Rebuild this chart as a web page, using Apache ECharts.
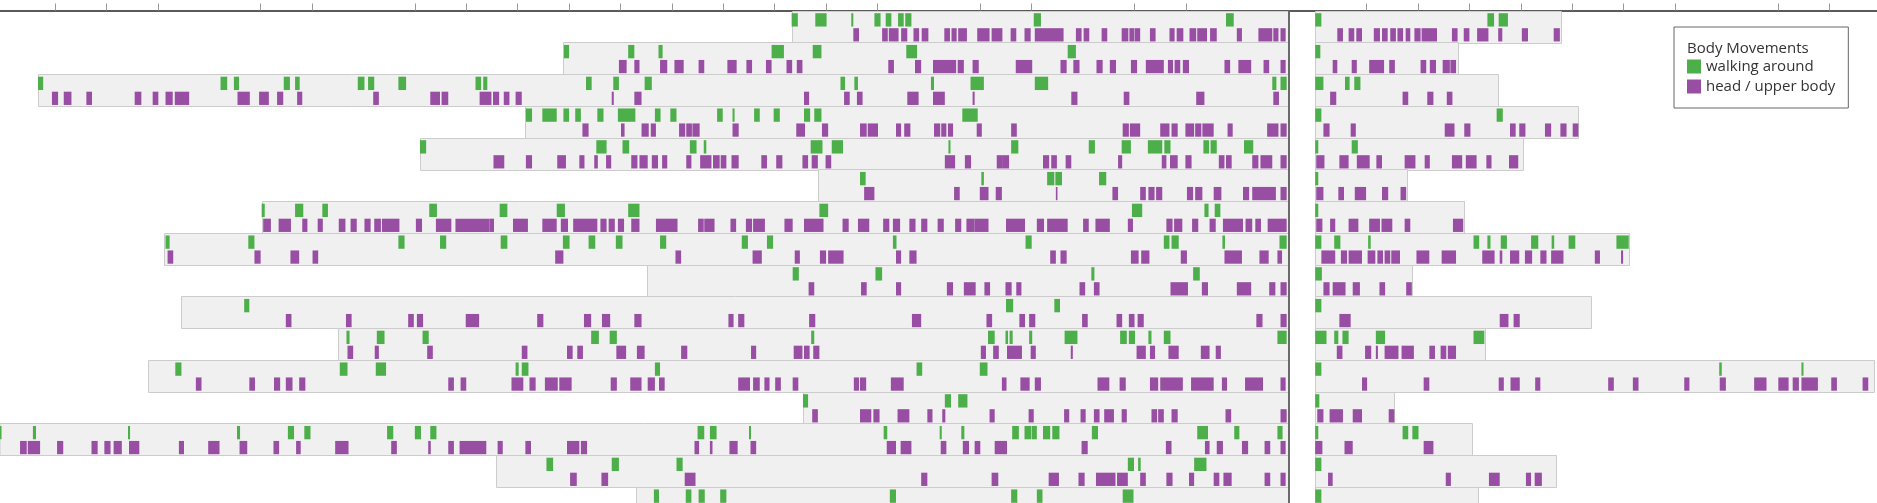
<!DOCTYPE html>
<html><head><meta charset="utf-8">
<script src="https://cdn.jsdelivr.net/npm/echarts@6/dist/echarts.min.js"></script>
<style>html,body{margin:0;padding:0;background:#fff;}#chart{width:1877px;height:503px;}</style>
</head><body><div id="chart"></div>
<script>
// ---- Data (minutes relative to the event; before = negative, after = positive) ----
const rowNames = ['1','2','3','4','5','6','7','8','9','10','11','12','13','14','15','16'];
const seriesNames = ['walking around', 'head / upper body'];
const legendTitle = 'Body Movements';

// observation window of each row
const boxStartBefore = [-96.7,-141.2,-243.3,-148.5,-169.0,-91.6,-199.8,-218.7,-124.9,-215.5,-184.9,-221.9,-94.5,-253,-154.3,-127.0];
const boxEndAfter    = [47.9,27.8,35.6,51.2,40.4,17.9,28.9,61.0,18.9,53.6,33.0,108.8,15.4,30.5,46.9,31.7];

// walking around, before the event
const walkingBefore = [
 [[-96.7,-95.5],[-92.1,-89.9],[-85.1,-84.7],[-80.6,-79.4],[-78.4,-77.3],[-76.0,-74.9],[-74.6,-73.4],[-49.6,-48.2],[-12.2,-10.7]],
 [[-141.0,-140.0],[-128.5,-127.3],[-122.6,-121.8],[-100.6,-98.2],[-92.6,-90.9],[-74.4,-72.3],[-43.0,-41.4]],
 [[-243.3,-242.3],[-207.8,-206.5],[-205.2,-204.2],[-195.5,-194.3],[-193.3,-192.4],[-181.1,-179.8],[-179.1,-177.9],[-173.2,-171.7],[-158.2,-157.1],[-156.7,-155.9],[-136.7,-135.6],[-131.4,-130.3],[-125.3,-123.9],[-87.2,-86.3],[-84.5,-83.8],[-69.6,-69.0],[-61.9,-59.3],[-49.4,-46.8],[-3.2,-2.4],[-1.6,-0.4]],
 [[-148.4,-147.2],[-145.2,-142.4],[-141.1,-140.0],[-138.8,-137.7],[-134.5,-133.3],[-130.5,-127.1],[-123.3,-122.2],[-120.3,-119.1],[-111.2,-110.1],[-108.2,-107.8],[-104.0,-102.9],[-100.2,-99.0],[-94.3,-93.1],[-92.3,-90.9],[-63.5,-60.5]],
 [[-169.0,-167.8],[-134.7,-132.7],[-129.6,-128.3],[-116.5,-115.2],[-113.8,-113.3],[-93.0,-90.7],[-88.9,-86.7],[-66.2,-65.8],[-54.0,-52.6],[-38.9,-37.7],[-32.5,-30.7],[-27.4,-24.6],[-24.2,-23.0],[-16.6,-15.5],[-15.2,-14.0],[-8.7,-6.9]],
 [[-83.4,-82.3],[-59.8,-59.3],[-47.0,-45.6],[-45.4,-44.1],[-36.9,-35.5]],
 [[-199.8,-199.2],[-193.3,-191.7],[-188.0,-186.9],[-167.2,-165.7],[-153.5,-152.0],[-142.4,-140.8],[-128.5,-126.3],[-91.3,-89.6],[-30.5,-28.5],[-16.4,-15.6],[-14.4,-13.3]],
 [[-218.5,-217.7],[-202.4,-201.2],[-173.2,-172.0],[-165.1,-163.9],[-153.3,-152.0],[-141.2,-139.9],[-136.2,-134.9],[-130.9,-129.6],[-122.3,-121.1],[-106.4,-105.2],[-101.5,-100.3],[-77.0,-76.3],[-51.2,-50.0],[-24.3,-23.2],[-22.8,-21.4],[-12.9,-12.4],[-1.8,-0.4]],
 [[-96.5,-95.3],[-80.4,-79.1],[-38.4,-37.8],[-18.6,-17.3]],
 [[-203.2,-202.2],[-55.0,-53.6],[-45.6,-44.5]],
 [[-183.3,-182.7],[-177.4,-175.9],[-168.5,-167.3],[-135.7,-134.2],[-132.1,-130.7],[-92.9,-92.3],[-58.5,-57.2],[-55.1,-54.6],[-54.3,-53.7],[-50.5,-49.9],[-43.6,-41.1],[-32.8,-31.5],[-31.1,-29.9],[-27.3,-26.7],[-24.3,-23.0],[-2.2,-0.4]],
 [[-216.6,-215.4],[-184.6,-183.1],[-177.6,-175.6],[-150.4,-149.8],[-149.2,-147.9],[-123.3,-122.3],[-72.4,-71.3],[-60.1,-58.6]],
 [[-94.5,-93.5],[-66.9,-65.7],[-64.3,-62.5]],
 [[-250.9,-250.4],[-244.3,-243.7],[-225.8,-225.4],[-204.6,-204.0],[-194.7,-193.5],[-191.5,-190.3],[-175.4,-174.2],[-170.0,-168.8],[-167.0,-165.8],[-115.0,-113.7],[-112.6,-111.3],[-105.0,-104.6],[-78.8,-78.1],[-67.9,-67.5],[-63.7,-63.1],[-53.8,-52.5],[-51.4,-50.1],[-50.0,-49.0],[-47.8,-46.4],[-46.0,-44.6],[-38.3,-37.1],[-17.8,-15.7],[-10.6,-9.6],[-2.2,-1.2]],
 [[-144.4,-143.1],[-131.7,-130.3],[-119.1,-117.9],[-31.3,-30.1],[-29.3,-28.8],[-18.4,-16.0]],
 [[-123.5,-122.5],[-117.3,-116.2],[-114.8,-113.6],[-110.6,-109.4],[-77.6,-76.4],[-54.0,-52.8],[-49.0,-47.9],[-32.3,-30.2]]
];

// walking around, after the event
const walkingAfter = [
 [[0,1.2],[33.5,34.8],[35.7,37.5]],
 [[0,1.0]],
 [[0,1.6],[5.8,6.7],[7.6,8.8]],
 [[0,1.2],[35.3,36.5]],
 [[0,0.6],[7.1,8.3]],
 [[0,0.6]],
 [[0,0.6]],
 [[0,1.2],[3.7,4.9],[10.3,10.8],[30.8,31.9],[33.5,34.1],[36.1,37.3],[42.0,43.4],[46.0,46.5],[49.3,50.6],[58.6,61.0]],
 [[0,1.3]],
 [[0,1.2]],
 [[0,2.2],[3.7,4.5],[5.3,6.5],[11.8,13.6],[30.8,32.9]],
 [[0,1.2],[78.6,79.1],[94.6,95.0]],
 [[0,0.8]],
 [[0,0.6],[17.0,18.1],[18.9,20.1]],
 [[0,1.2]],
 [[0,1.2]]
];

// head / upper body, before the event
const headBefore = [
 [[-84.7,-83.6],[-79.1,-78.0],[-77.8,-75.9],[-75.4,-74.2],[-73.0,-71.9],[-71.4,-70.1],[-67.0,-65.9],[-65.6,-64.6],[-64.3,-62.6],[-60.6,-58.2],[-57.8,-55.7],[-54.1,-53.0],[-51.4,-50.2],[-49.4,-43.8],[-41.4,-40.3],[-39.9,-38.8],[-36.4,-35.3],[-32.5,-31.2],[-31.0,-30.0],[-29.9,-28.9],[-27.0,-25.9],[-23.2,-22.2],[-21.8,-20.5],[-19.3,-18.0],[-17.8,-15.9],[-15.3,-14.0],[-10.1,-9.1],[-5.9,-3.2],[-3.0,-2.0],[-1.6,-0.6]],
 [[-130.3,-128.8],[-127.3,-126.3],[-122.3,-120.9],[-119.5,-117.7],[-114.8,-113.7],[-109.2,-107.4],[-105.5,-104.4],[-101.7,-100.6],[-97.7,-96.6],[-95.7,-94.6],[-77.9,-76.8],[-72.7,-71.5],[-69.2,-64.7],[-64.4,-63.2],[-61.5,-60.3],[-53.1,-49.9],[-44.4,-43.2],[-41.9,-40.7],[-37.4,-36.2],[-34.8,-33.6],[-30.7,-29.5],[-27.8,-24.3],[-23.5,-22.5],[-22.2,-21.1],[-20.6,-19.4],[-12.5,-11.4],[-9.8,-7.3],[-4.9,-3.8],[-1.6,-0.6]],
 [[-240.6,-239.4],[-238.3,-236.8],[-233.9,-232.8],[-224.5,-223.2],[-221.0,-219.9],[-218.5,-217.1],[-216.7,-213.9],[-204.5,-202.1],[-200.3,-198.4],[-196.8,-195.6],[-192.9,-191.9],[-178.1,-177.0],[-167.0,-165.1],[-164.8,-163.5],[-157.4,-155.1],[-154.8,-153.6],[-152.7,-151.6],[-150.4,-149.2],[-131.7,-131.3],[-127.3,-125.9],[-94.3,-93.3],[-86.5,-85.4],[-84.0,-82.9],[-74.2,-72.0],[-69.2,-66.9],[-61.5,-61.1],[-42.3,-41.1],[-32.1,-31.0],[-18.0,-16.4],[-3.0,-1.9]],
 [[-137.4,-136.2],[-129.9,-129.2],[-125.9,-124.5],[-124.1,-123.1],[-118.6,-117.4],[-117.2,-116.1],[-116.0,-114.6],[-108.2,-107.0],[-95.8,-94.1],[-90.8,-89.6],[-83.4,-82.1],[-81.9,-79.9],[-76.4,-75.4],[-74.8,-73.6],[-69.0,-67.8],[-67.6,-66.6],[-66.3,-65.3],[-60.7,-59.7],[-54.0,-52.9],[-32.3,-31.1],[-30.9,-28.9],[-25.0,-23.2],[-22.8,-21.6],[-20.1,-18.4],[-18.2,-17.0],[-16.8,-14.6],[-11.9,-10.9],[-4.2,-2.0],[-1.6,-0.4]],
 [[-154.7,-152.6],[-148.4,-147.2],[-142.3,-140.6],[-138.0,-137.0],[-135.1,-134.4],[-132.8,-131.8],[-127.9,-126.7],[-126.3,-124.7],[-123.9,-122.7],[-121.9,-120.9],[-117.2,-116.2],[-114.5,-112.3],[-112.0,-110.7],[-110.5,-109.4],[-108.4,-107.0],[-102.6,-101.5],[-99.7,-98.5],[-94.6,-93.5],[-92.8,-91.6],[-90.1,-89.0],[-66.9,-64.9],[-63.0,-61.8],[-56.8,-55.6],[-55.6,-54.4],[-47.8,-46.6],[-46.2,-45.1],[-43.4,-42.3],[-33.2,-32.4],[-24.7,-23.8],[-23.1,-21.6],[-20.1,-18.9],[-13.6,-12.5],[-12.2,-11.1],[-7.1,-5.9],[-5.5,-3.2],[-1.6,-0.4]],
 [[-82.6,-80.6],[-65.1,-64.0],[-60.1,-58.4],[-57.0,-55.8],[-45.3,-45.0],[-34.3,-33.2],[-28.9,-27.8],[-27.3,-26.1],[-25.8,-24.6],[-19.8,-18.6],[-18.2,-16.8],[-14.6,-13.1],[-8.9,-7.7],[-7.1,-2.5],[-1.6,-0.4]],
 [[-199.5,-198.0],[-196.5,-194.1],[-191.9,-190.9],[-188.9,-187.9],[-184.8,-183.5],[-182.5,-181.3],[-179.8,-178.6],[-177.9,-176.6],[-176.4,-173.0],[-169.8,-168.6],[-165.9,-162.9],[-162.1,-155.5],[-155.5,-154.6],[-150.9,-148.0],[-145.2,-142.4],[-141.6,-140.2],[-139.2,-134.5],[-133.9,-132.7],[-132.3,-131.1],[-130.5,-129.3],[-127.9,-126.3],[-123.1,-118.9],[-114.9,-113.8],[-113.7,-111.7],[-108.6,-107.5],[-105.6,-104.4],[-104.2,-101.9],[-98.1,-96.5],[-94.3,-90.5],[-86.8,-85.6],[-83.8,-81.6],[-78.9,-77.7],[-77.0,-75.6],[-73.8,-72.6],[-71.5,-70.3],[-68.3,-67.1],[-64.9,-63.7],[-62.7,-61.1],[-61.1,-58.4],[-55.0,-51.3],[-49.0,-47.6],[-47.0,-43.0],[-40.0,-38.9],[-37.6,-34.8],[-31.3,-30.3],[-23.8,-22.6],[-22.3,-20.7],[-18.8,-17.6],[-15.4,-14.2],[-12.8,-8.9],[-8.4,-7.1],[-6.5,-5.4],[-4.1,-0.4]],
 [[-218.1,-217.0],[-201.2,-200.0],[-194.2,-192.5],[-189.9,-188.8],[-142.7,-141.1],[-119.3,-118.2],[-104.3,-102.5],[-96.1,-95.1],[-91.2,-90.0],[-89.6,-86.6],[-76.4,-75.4],[-73.8,-72.4],[-46.4,-45.3],[-44.4,-43.2],[-30.7,-29.2],[-28.7,-27.1],[-21.0,-19.8],[-12.5,-9.1],[-5.7,-3.9],[-2.2,-1.3]],
 [[-93.4,-92.3],[-83.2,-82.1],[-76.4,-75.4],[-66.5,-65.3],[-63.2,-60.9],[-59.2,-58.1],[-55.1,-53.9],[-53.0,-52.0],[-40.7,-39.6],[-37.9,-36.8],[-23.0,-19.6],[-16.9,-15.7],[-10.1,-7.3],[-3.8,-2.6],[-1.6,-0.4]],
 [[-195.1,-194.0],[-183.4,-182.3],[-171.3,-170.2],[-169.6,-168.4],[-160.1,-157.5],[-146.2,-145.0],[-137.1,-135.7],[-133.6,-132.0],[-127.3,-125.9],[-109.0,-108.0],[-107.1,-105.9],[-93.3,-92.1],[-73.3,-71.5],[-58.8,-57.7],[-52.4,-51.3],[-50.5,-49.3],[-40.2,-39.1],[-33.5,-32.4],[-31.1,-30.0],[-29.4,-28.2],[-6.3,-5.1],[-1.6,-0.4]],
 [[-183.1,-182.0],[-177.8,-177.0],[-167.6,-166.5],[-149.2,-148.1],[-140.4,-139.3],[-138.4,-137.3],[-130.8,-128.9],[-126.8,-125.3],[-118.2,-117.0],[-104.6,-103.6],[-96.3,-94.6],[-94.3,-93.2],[-92.5,-91.3],[-59.9,-58.9],[-57.5,-56.4],[-54.8,-51.9],[-50.2,-49.2],[-42.4,-42.0],[-29.6,-27.8],[-27.0,-26.0],[-23.4,-21.4],[-17.1,-15.4],[-14.2,-13.2]],
 [[-212.6,-211.5],[-202.2,-201.1],[-197.4,-196.2],[-195.1,-193.8],[-192.5,-191.3],[-163.5,-162.4],[-161.1,-160.0],[-151.2,-148.9],[-147.7,-146.5],[-144.7,-142.2],[-141.9,-139.5],[-131.9,-130.7],[-128.1,-125.9],[-124.7,-123.3],[-122.5,-121.4],[-107.1,-104.8],[-104.2,-102.9],[-102.0,-101.0],[-99.9,-98.8],[-96.5,-95.4],[-84.6,-83.6],[-83.4,-82.2],[-77.4,-74.9],[-55.8,-54.9],[-52.2,-50.4],[-49.4,-48.2],[-37.2,-34.9],[-32.9,-31.7],[-27.0,-25.4],[-25.0,-20.6],[-19.0,-14.6],[-13.0,-12.0],[-8.5,-5.0],[-1.6,-0.6]],
 [[-92.7,-91.6],[-83.4,-81.2],[-80.8,-79.6],[-76.1,-73.8],[-70.3,-69.3],[-67.4,-66.8],[-58.2,-57.2],[-50.6,-49.6],[-43.7,-42.7],[-40.5,-39.5],[-37.9,-36.8],[-35.9,-34.0],[-32.5,-31.5],[-26.7,-25.6],[-25.4,-24.3],[-22.8,-21.6],[-12.3,-11.2],[-1.6,-0.4]],
 [[-246.8,-245.5],[-245.3,-242.9],[-239.6,-238.4],[-232.9,-231.7],[-230.4,-229.2],[-228.6,-227.0],[-225.6,-223.6],[-215.9,-214.9],[-210.2,-208.0],[-204.1,-202.6],[-197.5,-196.4],[-193.1,-192.2],[-185.5,-182.9],[-174.6,-173.5],[-167.4,-166.9],[-163.5,-162.4],[-161.3,-156.1],[-153.9,-152.9],[-148.5,-147.4],[-140.4,-138.0],[-137.7,-136.5],[-115.6,-114.7],[-112.6,-112.1],[-108.8,-107.2],[-104.7,-103.6],[-78.2,-76.4],[-75.5,-73.4],[-67.7,-66.6],[-63.4,-62.2],[-61.1,-60.0],[-57.2,-54.8],[-40.3,-39.1],[-23.9,-22.8],[-16.3,-15.4],[-14.0,-12.8],[-9.1,-7.9],[-4.7,-3.6],[-1.6,-0.6]],
 [[-139.8,-138.5],[-133.7,-132.4],[-117.5,-115.4],[-71.5,-70.3],[-57.8,-56.5],[-46.7,-44.7],[-40.9,-39.7],[-37.5,-33.7],[-33.4,-31.3],[-28.9,-27.8],[-23.8,-22.6],[-19.4,-18.4],[-14.6,-13.5],[-12.7,-11.1],[-4.7,-3.6],[-1.6,-0.6]],
 []
];

// head / upper body, after the event
const headAfter = [
 [[4.3,5.4],[6.5,7.6],[8.0,9.1],[11.4,12.6],[13.0,14.1],[14.6,15.7],[16.0,17.1],[17.6,18.5],[19.3,20.5],[20.7,23.7],[26.6,27.7],[28.9,30.0],[31.5,33.7],[35.6,36.4],[40.2,41.4],[46.4,47.6]],
 [[3.4,4.3],[7.1,8.1],[10.5,13.4],[14.4,15.5],[20.5,21.6],[22.3,23.5],[24.8,26.2],[26.3,27.4]],
 [[2.9,4.1],[17.0,18.1],[21.8,23.0],[25.6,26.7]],
 [[1.6,2.8],[6.9,7.9],[25.2,27.1],[29.0,30.2],[37.9,39.0],[39.7,40.9],[44.7,45.9],[47.7,48.9],[50.1,51.2]],
 [[0.2,1.8],[4.7,6.5],[8.1,10.6],[11.9,13.0],[17.4,19.5],[21.3,22.3],[26.6,28.6],[29.3,31.4],[33.3,34.3],[37.7,39.5]],
 [[0.2,1.6],[4.5,5.6],[7.7,9.9],[13.0,14.2],[16.6,17.7]],
 [[0.2,1.4],[2.9,3.9],[6.5,8.4],[10.5,12.6],[12.9,15.0],[17.4,18.5],[26.8,28.8]],
 [[1.2,3.9],[5.0,6.2],[6.5,9.1],[10.2,11.7],[12.1,13.2],[13.5,14.6],[14.8,16.5],[19.7,22.2],[24.6,27.4],[32.5,34.9],[35.9,36.4],[37.9,39.7],[40.8,42.2],[43.8,45.0],[45.9,48.3],[54.4,55.4],[59.5,59.9]],
 [[1.6,2.8],[3.4,5.9],[7.3,8.7],[12.5,13.6],[17.7,18.8]],
 [[4.7,6.9],[35.9,37.6],[38.6,39.8]],
 [[4.2,5.3],[9.7,10.9],[11.8,12.2],[13.5,16.2],[16.8,19.2],[22.2,23.3],[24.4,25.5],[25.8,27.4]],
 [[9.1,10.1],[21.1,22.2],[35.7,36.7],[38.0,39.8],[42.8,43.8],[57.0,58.1],[61.8,62.9],[71.8,72.8],[78.7,79.9],[85.4,87.8],[90.1,92.1],[92.9,94.1],[94.6,97.8],[100.4,101.5],[106.5,107.6]],
 [[0.4,1.6],[2.8,5.4],[7.3,9.1],[14.3,15.4]],
 [[0,1.4],[5.7,7.3],[21.1,23.0]],
 [[2.5,3.4],[25.4,26.4],[33.8,35.9],[41.0,42.0],[42.7,44.1]],
 []
];

// axis ticks (minutes)
const tickMinutesBefore = [-240,-230,-220,-200,-190,-170,-160,-150,-140,-130,-120,-110,-100,-90,-80,-60,-50,-30,-20];
const tickMinutesAfter = [10,20,30,40,50,60,70,90,100];

// ---- Chart ----
const GREEN = '#4daf4a', PURPLE = '#984ea3';
const chart = echarts.init(document.getElementById('chart'), null, {renderer: 'canvas'});

function toItems(rows) {
  const out = [];
  rows.forEach((list, r) => list.forEach(p => out.push([r, p[0], p[1]])));
  return out;
}
function clipTo(params, rect) {
  const cs = params.coordSys;
  return echarts.graphic.clipRectByRect(rect, {x: cs.x, y: cs.y, width: cs.width, height: cs.height});
}
function markRenderer(f0, f1) {
  return function (params, api) {
    const r = api.value(0);
    const a = api.coord([api.value(1), r]);
    const b = api.coord([api.value(2), r]);
    const h = api.size([0, 1])[1];
    const top = a[1] - h / 2;
    const shape = clipTo(params, {x: a[0], y: top + f0 * h, width: Math.max(b[0] - a[0], 1.6), height: (f1 - f0) * h});
    return shape && {type: 'rect', shape: shape, style: {fill: api.visual('color')}};
  };
}
function boxRenderer(params, api) {
  const r = api.value(0);
  const a = api.coord([api.value(1), r]);
  const b = api.coord([api.value(2), r]);
  const h = api.size([0, 1])[1];
  const top = a[1] - h / 2;
  const shape = clipTo(params, {x: Math.round(a[0]) + 0.5, y: Math.round(top) + 0.5, width: Math.round(b[0] - a[0]), height: Math.round(h)});
  return shape && {type: 'rect', shape: shape, style: {fill: '#f0f0f0', stroke: '#cccccc', lineWidth: 1}};
}

const boxBefore = rowNames.map((n, r) => [r, boxStartBefore[r], 0]);
const boxAfter = rowNames.map((n, r) => [r, 0, boxEndAfter[r]]);

const GRID_TOP = 10.5, ROW_H = 31.75;
const gridHeight = rowNames.length * ROW_H;

const yAxisBase = {type: 'category', data: rowNames, inverse: true, show: false};
const xAxisBase = {
  type: 'value', position: 'top', splitLine: {show: false},
  axisLine: {show: true, lineStyle: {color: '#5a5a5a', width: 2}},
  axisLabel: {show: false}
};

chart.setOption({
  animation: false,
  backgroundColor: '#ffffff',
  textStyle: {fontFamily: 'Open Sans'},
  title: {
    text: legendTitle, left: 1687, top: 40, padding: 0,
    textStyle: {fontFamily: 'Open Sans', fontSize: 15, fontWeight: 'normal', color: '#333', lineHeight: 18}
  },
  legend: {
    data: seriesNames, orient: 'vertical', left: 1674, top: 27,
    padding: [32, 13, 14, 13], itemWidth: 14, itemHeight: 14, itemGap: 5, icon: 'rect',
    borderColor: '#666', borderWidth: 1, backgroundColor: '#fff',
    textStyle: {fontFamily: 'Open Sans', fontSize: 15, color: '#333'}
  },
  grid: [
    {left: 0, top: GRID_TOP, width: 1315.2, height: gridHeight, outerBoundsMode: 'none', containLabel: false},
    {left: 1315.2, top: GRID_TOP, width: 561.8, height: gridHeight, outerBoundsMode: 'none', containLabel: false}
  ],
  xAxis: [
    Object.assign({}, xAxisBase, {gridIndex: 0, min: -250.7, max: 5.15,
      axisTick: {show: true, customValues: tickMinutesBefore, length: 7, lineStyle: {color: '#999'}}}),
    Object.assign({}, xAxisBase, {gridIndex: 1, min: 0, max: 109.3,
      axisTick: {show: true, customValues: tickMinutesAfter, length: 7, lineStyle: {color: '#999'}}})
  ],
  yAxis: [
    Object.assign({}, yAxisBase, {gridIndex: 0}),
    Object.assign({}, yAxisBase, {gridIndex: 1})
  ],
  series: [
    {type: 'custom', name: 'box-before', xAxisIndex: 0, yAxisIndex: 0, renderItem: boxRenderer, data: boxBefore, encode: {x: [1, 2], y: 0}, silent: true, z: 1},
    {type: 'custom', name: 'box-after', xAxisIndex: 1, yAxisIndex: 1, renderItem: boxRenderer, data: boxAfter, encode: {x: [1, 2], y: 0}, silent: true, z: 1},
    {type: 'custom', name: seriesNames[0], xAxisIndex: 0, yAxisIndex: 0, itemStyle: {color: GREEN}, renderItem: markRenderer(0.085, 0.505), data: toItems(walkingBefore), encode: {x: [1, 2], y: 0}, z: 2},
    {type: 'custom', name: seriesNames[0], xAxisIndex: 1, yAxisIndex: 1, itemStyle: {color: GREEN}, renderItem: markRenderer(0.085, 0.505), data: toItems(walkingAfter), encode: {x: [1, 2], y: 0}, z: 2},
    {type: 'custom', name: seriesNames[1], xAxisIndex: 0, yAxisIndex: 0, itemStyle: {color: PURPLE}, renderItem: markRenderer(0.557, 0.975), data: toItems(headBefore), encode: {x: [1, 2], y: 0}, z: 2,
      markLine: {silent: true, symbol: 'none', label: {show: false}, lineStyle: {color: '#6a6a6a', width: 2, type: 'solid'}, data: [{xAxis: 0}]}},
    {type: 'custom', name: seriesNames[1], xAxisIndex: 1, yAxisIndex: 1, itemStyle: {color: PURPLE}, renderItem: markRenderer(0.557, 0.975), data: toItems(headAfter), encode: {x: [1, 2], y: 0}, z: 2}
  ]
});
</script>
</body></html>
